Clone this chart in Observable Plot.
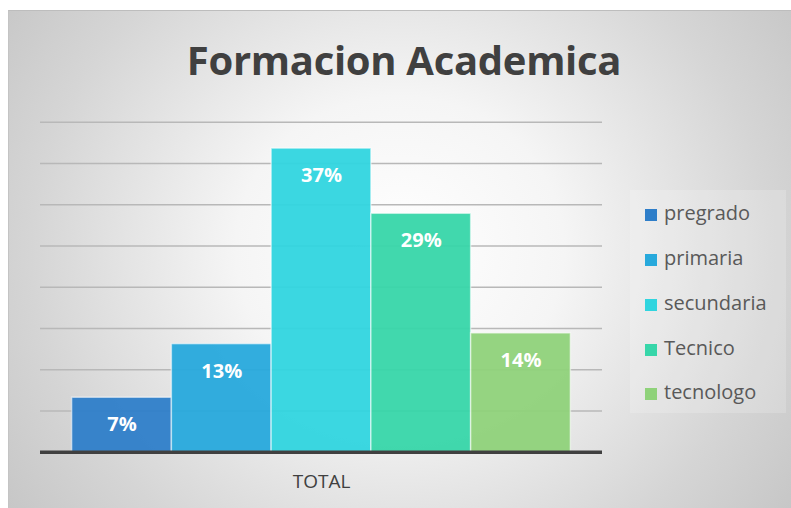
<!DOCTYPE html>
<html>
<head>
<meta charset="utf-8">
<script src="https://cdn.jsdelivr.net/npm/d3@7"></script>
<script src="https://cdn.jsdelivr.net/npm/@observablehq/plot@0.6"></script>
<style>
  html, body { margin: 0; padding: 0; background: #fff; }
  #wrap { position: relative; width: 791px; height: 508px; overflow: hidden; background: #fff; }
  #box {
    position: absolute; left: 8px; top: 10px; width: 783px; height: 498px;
    border-top: 1px solid #bdbdbd; border-left: 1px solid #c4c4c4; box-sizing: border-box;
    background: radial-gradient(ellipse 75% 110% at 50% 48%, #ffffff 0%, #f5f5f5 28%, #d5d5d5 63%, #c2c2c2 88%);
  }
  #title {
    position: absolute; left: 8px; width: 792px; top: 34px; text-align: center;
    font-family: "Open Sans", sans-serif; font-weight: 700; font-size: 40px;
    letter-spacing: -0.3px; color: #404040; line-height: 52px;
  }
  #chart { position: absolute; left: 0; top: 110px; }
  #legend {
    position: absolute; left: 630px; top: 190px; width: 156px; height: 223px;
    background: rgba(255,255,255,0.18);
    font-family: "Open Sans", sans-serif; font-size: 20px; color: #595959;
  }
  .item { position: absolute; left: 15px; height: 28px; line-height: 28px; white-space: nowrap; }
  .sw { display: inline-block; width: 12px; height: 12px; margin-right: 7px; vertical-align: -1px; }
</style>
</head>
<body>
<div id="wrap">
  <div id="box"></div>
  <div id="title">Formacion Academica</div>
  <div id="chart"></div>
  <div id="legend"></div>
</div>
<script>
// ---- data ----
const categories = ["pregrado", "primaria", "secundaria", "Tecnico", "tecnologo"];
const values = [6.6, 13.1, 36.8, 28.9, 14.4];          // percent
const labels = ["7%", "13%", "37%", "29%", "14%"];
const groupLabel = "TOTAL";
const colors = ["#2e7ec9", "#27a9dc", "#30d5df", "#37d6a9", "#8fd27a"];
const gridTicks = [5, 10, 15, 20, 25, 30, 35, 40];

const data = categories.map((c, i) => ({cat: c, value: values[i], label: labels[i], group: groupLabel}));

const chart = Plot.plot({
  width: 791,
  height: 398,
  marginLeft: 40,
  marginRight: 189,
  marginTop: 11.7,
  marginBottom: 56.3,
  style: {background: "transparent", fontFamily: "Open Sans, sans-serif", overflow: "visible"},
  fx: {domain: [groupLabel], padding: 0, label: null, round: false},
  x: {domain: categories, axis: null, paddingInner: 0, paddingOuter: 0.317, round: false},
  y: {domain: [0, 40], axis: null},
  color: {domain: categories, range: colors},
  marks: [
    Plot.gridY(gridTicks, {stroke: "#b8b8b8", strokeOpacity: 1, strokeWidth: 1.5}),
    Plot.barY(data, {fx: "group", x: "cat", y: "value", fill: "cat", fillOpacity: 0.95,
      stroke: "white", strokeOpacity: 0.55, strokeWidth: 1.5}),
    Plot.text(data, {fx: "group", x: "cat", y: "value", text: "label", dy: 27,
      fill: "white", fontWeight: "bold", fontSize: 20}),
    Plot.ruleY([0], {stroke: "#404040", strokeWidth: 3.5}),
    Plot.axisFx({anchor: "bottom", tickSize: 0, tickPadding: 22, label: null,
      fontSize: 19, fill: "#404040"})
  ]
});
document.getElementById("chart").appendChild(chart);

// legend built from the same arrays
const legend = document.getElementById("legend");
const centers = [213, 258, 303, 348, 392];
categories.forEach((c, i) => {
  const it = document.createElement("div");
  it.className = "item";
  it.style.top = (centers[i] - 190 - 14) + "px";
  const sw = document.createElement("span");
  sw.className = "sw";
  sw.style.background = colors[i];
  it.appendChild(sw);
  it.appendChild(document.createTextNode(c));
  legend.appendChild(it);
});
</script>
</body>
</html>
